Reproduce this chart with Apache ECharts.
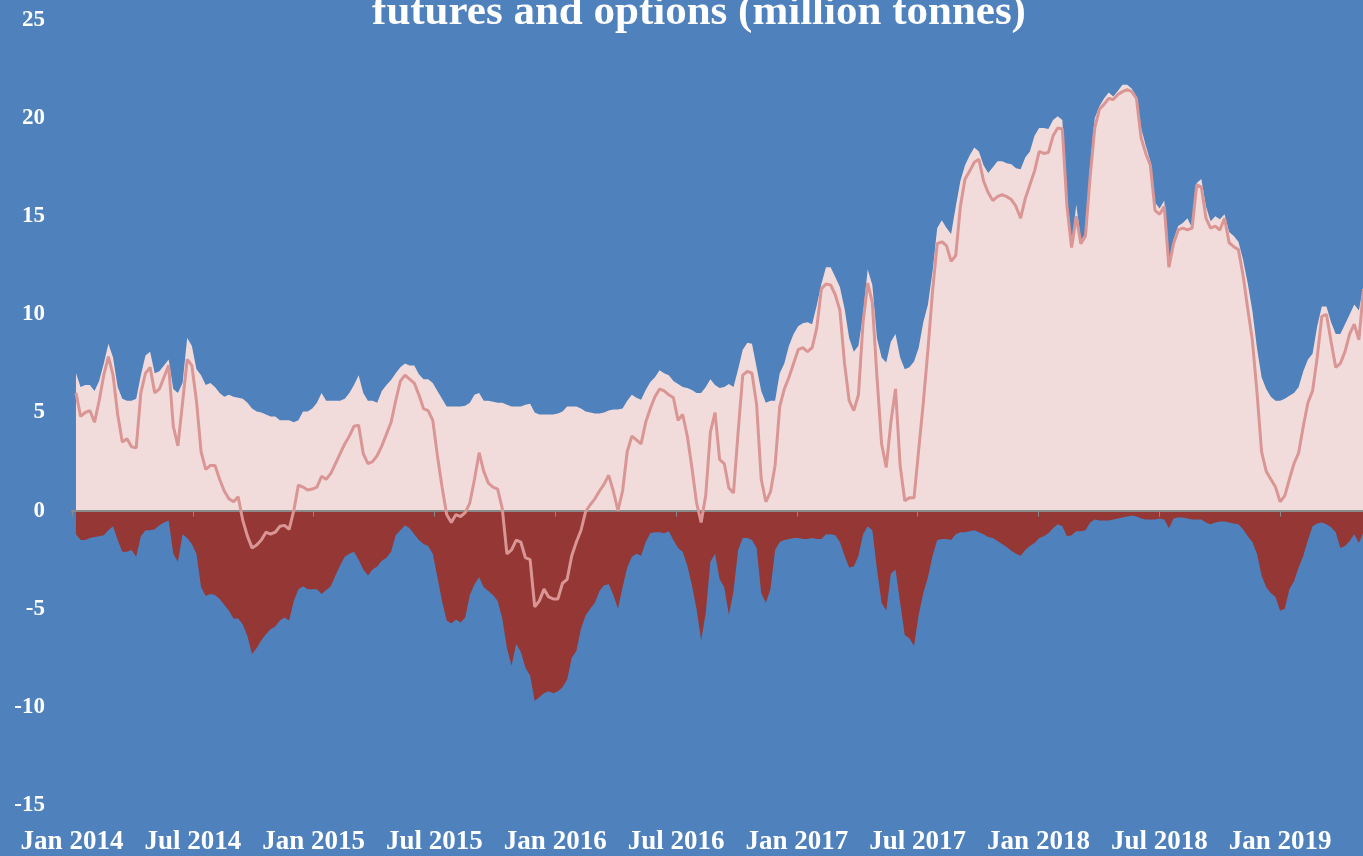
<!DOCTYPE html>
<html>
<head>
<meta charset="utf-8">
<title>futures and options (million tonnes)</title>
<script src="https://cdn.jsdelivr.net/npm/echarts@6/dist/echarts.min.js"></script>
<style>
  html, body { margin: 0; padding: 0; background: #4f81bd; }
  #chart { width: 1363px; height: 856px; }
</style>
</head>
<body>
<div id="chart"></div>
<script>
// weekly positions, million tonnes, first report 7 Jan 2014
var firstWeek = '2014-01-07';

var longPos = [
  7.0, 6.3, 6.4, 6.4, 6.1, 6.6, 7.5, 8.5, 7.8, 6.3,
  5.7, 5.6, 5.6, 5.7, 6.9, 7.9, 8.1, 7.0, 7.1, 7.4,
  7.7, 6.2, 6.0, 6.5, 8.8, 8.4, 7.2, 6.9, 6.4, 6.5,
  6.3, 6.0, 5.8, 5.9, 5.8, 5.75, 5.7, 5.5, 5.2, 5.05,
  5.0, 4.9, 4.8, 4.8, 4.6, 4.6, 4.6, 4.5, 4.6, 5.05,
  5.05, 5.2, 5.5, 6.0, 5.6, 5.6, 5.6, 5.6, 5.7, 6.0,
  6.4, 6.9, 6.0, 5.6, 5.6, 5.5, 6.1, 6.4, 6.65, 7.0,
  7.3, 7.5, 7.4, 7.4, 6.95, 6.7, 6.7, 6.5, 6.1, 5.7,
  5.3, 5.3, 5.3, 5.3, 5.35, 5.5, 5.9, 6.0, 5.6, 5.6,
  5.55, 5.5, 5.5, 5.4, 5.3, 5.3, 5.3, 5.4, 5.45, 5.0,
  4.9, 4.9, 4.9, 4.9, 4.95, 5.05, 5.3, 5.3, 5.3, 5.2,
  5.05, 5.0, 4.95, 4.95, 5.0, 5.1, 5.15, 5.15, 5.2, 5.6,
  5.9, 5.75, 5.65, 6.15, 6.55, 6.8, 7.15, 7.0, 6.9, 6.6,
  6.45, 6.3, 6.25, 6.15, 6.0, 6.0, 6.3, 6.7, 6.4, 6.25,
  6.3, 6.45, 6.3, 7.2, 8.2, 8.55, 8.5, 7.3, 6.1, 5.5,
  5.6, 5.6, 7.0, 7.5, 8.4, 9.0, 9.4, 9.55, 9.6, 9.5,
  10.45, 11.55, 12.4, 12.4, 11.9, 11.4, 10.3, 8.8, 8.1, 8.4,
  10.0, 12.3, 11.5, 8.8, 7.8, 7.55, 8.6, 9.0, 7.8, 7.2,
  7.3, 7.6, 8.3, 9.6, 10.5, 12.2, 14.4, 14.8, 14.4, 14.1,
  15.5, 16.8, 17.6, 18.1, 18.5, 18.3, 17.6, 17.2, 17.5, 17.8,
  17.8, 17.7, 17.65, 17.45, 17.4, 18.0, 18.3, 19.1, 19.5, 19.5,
  19.45, 19.9, 20.1, 19.9, 16.0, 13.4, 15.6, 13.8, 14.1, 17.6,
  20.0, 20.6, 21.0, 21.3, 21.1, 21.4, 21.7, 21.7, 21.5, 21.1,
  19.5, 18.6, 17.8, 15.7, 15.4, 15.8, 12.75, 13.8, 14.5, 14.65,
  14.9, 14.4, 16.7, 16.9, 15.5, 14.75, 15.0, 14.85, 15.1, 14.2,
  14.0, 13.7, 12.8, 11.6, 10.2, 8.3, 6.8, 6.2, 5.8, 5.6,
  5.6, 5.7, 5.85, 6.0, 6.3, 7.1, 7.7, 8.0, 9.4, 10.4,
  10.4, 9.6, 9.0, 9.0, 9.5, 10.0, 10.5, 10.2, 11.5
];

var shortPos = [
  -1.2, -1.5, -1.5, -1.4, -1.35, -1.3, -1.25, -1.0, -0.8, -1.5,
  -2.1, -2.1, -2.0, -2.35, -1.3, -1.0, -1.0, -0.95, -0.75, -0.6,
  -0.5, -2.2, -2.6, -1.2, -1.4, -1.7, -2.2, -3.9, -4.35, -4.25,
  -4.3, -4.5, -4.8, -5.1, -5.5, -5.5, -5.8, -6.4, -7.3, -7.0,
  -6.6, -6.3, -6.05, -5.9, -5.6, -5.45, -5.6, -4.6, -4.0, -3.85,
  -4.0, -4.0, -4.0, -4.25, -4.05, -3.85, -3.3, -2.8, -2.35, -2.2,
  -2.1, -2.5, -3.0, -3.3, -3.0, -2.85, -2.55, -2.4, -2.1, -1.25,
  -1.0, -0.75, -0.9, -1.2, -1.5, -1.7, -1.8, -2.2, -3.4, -4.6,
  -5.6, -5.75, -5.55, -5.7, -5.45, -4.3, -3.75, -3.4, -3.9, -4.1,
  -4.3, -4.6, -5.5, -7.0, -7.9, -6.8, -7.2, -8.0, -8.4, -9.7,
  -9.5, -9.3, -9.2, -9.3, -9.2, -9.0, -8.6, -7.5, -7.15, -6.0,
  -5.35, -5.0, -4.7, -4.1, -3.8, -3.75, -4.3, -5.0, -3.9, -2.9,
  -2.35, -2.2, -2.3, -1.6, -1.15, -1.1, -1.1, -1.15, -1.05, -1.5,
  -1.9, -2.1, -2.8, -3.8, -5.0, -6.6, -5.2, -2.6, -2.2, -3.5,
  -3.9, -5.3, -4.1, -2.0, -1.4, -1.4, -1.5, -1.9, -4.2, -4.7,
  -4.0, -2.0, -1.6, -1.5, -1.45, -1.4, -1.4, -1.45, -1.45, -1.4,
  -1.45, -1.45, -1.2, -1.2, -1.25, -1.6, -2.3, -2.9, -2.85, -2.3,
  -1.2, -0.8, -1.0, -3.0, -4.7, -5.1, -3.2, -3.0, -4.7, -6.35,
  -6.5, -6.9, -5.3, -4.2, -3.4, -2.3, -1.5, -1.45, -1.45, -1.5,
  -1.2, -1.1, -1.1, -1.05, -1.0, -1.1, -1.2, -1.35, -1.4, -1.55,
  -1.7, -1.85, -2.05, -2.2, -2.3, -2.0, -1.8, -1.65, -1.4, -1.3,
  -1.15, -0.9, -0.7, -0.8, -1.3, -1.25, -1.05, -1.05, -1.0, -0.6,
  -0.45, -0.5, -0.5, -0.5, -0.45, -0.4, -0.35, -0.3, -0.25, -0.3,
  -0.4, -0.45, -0.45, -0.45, -0.4, -0.45, -0.9, -0.4, -0.35, -0.35,
  -0.4, -0.45, -0.45, -0.45, -0.6, -0.7, -0.6, -0.55, -0.55, -0.6,
  -0.65, -0.7, -0.95, -1.3, -1.6, -2.2, -3.3, -3.9, -4.2, -4.4,
  -5.1, -5.0, -4.0, -3.6, -2.9, -2.3, -1.5, -0.8, -0.65, -0.6,
  -0.7, -0.85, -1.1, -1.9, -1.8, -1.55, -1.2, -1.65, -1.1
];

var netPos = [
  6.0, 4.8, 5.0, 5.1, 4.5, 5.6, 6.9, 7.85, 6.9, 4.9,
  3.5, 3.66, 3.25, 3.2, 6.0, 7.0, 7.3, 6.0, 6.2, 6.8,
  7.4, 4.3, 3.3, 5.5, 7.7, 7.4, 5.6, 3.0, 2.1, 2.3,
  2.3, 1.6, 1.0, 0.6, 0.45, 0.7, -0.5, -1.3, -1.9, -1.75,
  -1.5, -1.1, -1.2, -1.1, -0.8, -0.75, -0.95, 0.0, 1.3, 1.2,
  1.05, 1.1, 1.2, 1.75, 1.6, 1.9, 2.4, 2.9, 3.4, 3.8,
  4.3, 4.35, 2.9, 2.4, 2.5, 2.8, 3.3, 3.9, 4.5, 5.6,
  6.6, 6.9, 6.7, 6.5, 5.9, 5.2, 5.1, 4.6, 2.8, 1.2,
  -0.2, -0.6, -0.2, -0.3, -0.1, 0.4, 1.6, 2.95, 2.0, 1.4,
  1.2, 1.1, 0.1, -2.2, -2.0, -1.5, -1.6, -2.4, -2.5, -4.9,
  -4.6, -4.0, -4.4, -4.5, -4.5, -3.7, -3.5, -2.3, -1.6, -1.0,
  -0.05, 0.3, 0.6, 1.0, 1.35, 1.8, 1.0, 0.0, 1.0, 3.0,
  3.8, 3.6, 3.4, 4.5, 5.2, 5.8, 6.2, 6.1, 5.9, 5.75,
  4.6, 4.9, 3.8, 2.2, 0.4, -0.6, 0.8, 4.0, 5.0, 2.6,
  2.4, 1.15, 0.9, 4.0, 6.9, 7.1, 7.0, 5.4, 1.6, 0.45,
  0.95, 2.3, 5.3, 6.2, 6.8, 7.5, 8.2, 8.3, 8.1, 8.3,
  9.3, 11.3, 11.55, 11.5, 11.0, 10.2, 7.5, 5.6, 5.1, 5.9,
  9.6, 11.6, 10.6, 6.8, 3.4, 2.2, 4.5, 6.2, 2.3, 0.5,
  0.65, 0.65, 3.1, 5.5, 8.2, 11.2, 13.6, 13.7, 13.5, 12.7,
  13.0, 15.5, 16.9, 17.3, 17.75, 17.9, 16.8, 16.2, 15.8, 16.0,
  16.1, 16.0, 15.85, 15.5, 14.9, 15.9, 16.6, 17.3, 18.3, 18.2,
  18.25, 19.1, 19.5, 19.45, 15.5, 13.4, 15.0, 13.6, 14.0, 17.0,
  19.5, 20.45, 20.7, 21.0, 20.95, 21.2, 21.35, 21.45, 21.35, 21.0,
  19.0, 18.2, 17.6, 15.3, 15.1, 15.5, 12.4, 13.6, 14.3, 14.4,
  14.3, 14.4, 16.6, 16.5, 14.9, 14.4, 14.5, 14.3, 14.9, 13.65,
  13.45, 13.3, 12.0, 10.3, 8.7, 6.05, 3.0, 2.0, 1.6, 1.2,
  0.45, 0.75, 1.6, 2.4, 2.95, 4.3, 5.5, 6.1, 7.8, 9.9,
  10.0, 8.6, 7.3, 7.5, 8.1, 9.0, 9.5, 8.7, 11.3
];

var xTickLabels = ['Jan 2014', 'Jul 2014', 'Jan 2015', 'Jul 2015', 'Jan 2016', 'Jul 2016',
                   'Jan 2017', 'Jul 2017', 'Jan 2018', 'Jul 2018', 'Jan 2019'];

var titleText = 'futures and options (million tonnes)';

// report dates, one per week
var weeks = [];
var t0 = Date.parse(firstWeek + 'T00:00:00Z');
for (var i = 0; i < longPos.length; i++) {
  weeks.push(new Date(t0 + i * 7 * 86400000).toISOString().slice(0, 10));
}

// date -> fractional year, so the x axis can tick every half year
function toYear(s) {
  var d = Date.parse(s + 'T00:00:00Z');
  var y = new Date(d).getUTCFullYear();
  var a = Date.UTC(y, 0, 1), b = Date.UTC(y + 1, 0, 1);
  return y + (d - a) / (b - a);
}
function pairs(vals) {
  return vals.map(function (v, i) { return [toYear(weeks[i]), v]; });
}

var chart = echarts.init(document.getElementById('chart'), null, { renderer: 'canvas' });
var serif = '"Liberation Serif", "DejaVu Serif", serif';

var option = {
  animation: false,
  backgroundColor: '#4f81bd',
  grid: { left: 72, right: 0, top: 20, bottom: 51, outerBoundsMode: 'none' },
  graphic: [{
    type: 'text',
    x: 699,
    y: 13,
    style: {
      text: titleText,
      fill: '#ffffff',
      font: 'bold 43px ' + serif,
      align: 'center',
      verticalAlign: 'middle'
    }
  }],
  xAxis: [{
    type: 'value',
    position: 'bottom',
    min: 2014,
    max: 2019.343,
    interval: 0.5,
    axisLine: { show: false, onZero: false },
    axisTick: { show: false },
    splitLine: { show: false },
    axisLabel: {
      color: '#ffffff',
      fontFamily: serif,
      fontWeight: 'bold',
      fontSize: 27,
      margin: 24,
      formatter: function (v) {
        var k = (v - 2014) * 2;
        if (Math.abs(k - Math.round(k)) > 1e-6) return '';
        return xTickLabels[Math.round(k)] || '';
      }
    }
  }, {
    // zero line with its half-year ticks
    type: 'value',
    position: 'top',
    z: 3,
    min: 2014,
    max: 2019.343,
    interval: 0.5,
    axisLine: { show: true, onZero: true, lineStyle: { color: '#8a8a8a', width: 2 } },
    axisTick: { show: true, inside: true, length: 6, lineStyle: { color: '#8a8a8a', width: 1 } },
    axisLabel: { show: false },
    splitLine: { show: false }
  }],
  yAxis: {
    type: 'value',
    min: -15,
    max: 25,
    interval: 5,
    axisLine: { show: false },
    axisTick: { show: false },
    splitLine: { show: false },
    axisLabel: {
      color: '#ffffff',
      fontFamily: serif,
      fontWeight: 'bold',
      fontSize: 23,
      margin: 27
    }
  },
  series: [{
    name: 'Long',
    type: 'line',
    data: pairs(longPos),
    showSymbol: false,
    z: 2,
    lineStyle: { width: 0 },
    areaStyle: { color: '#f2dcdb', opacity: 1 }
  }, {
    name: 'Short',
    type: 'line',
    data: pairs(shortPos),
    showSymbol: false,
    z: 2,
    lineStyle: { width: 0 },
    areaStyle: { color: '#953735', opacity: 1 }
  }, {
    name: 'Net',
    type: 'line',
    data: pairs(netPos),
    showSymbol: false,
    z: 4,
    lineStyle: { color: '#d99694', width: 3 }
  }]
};

chart.setOption(option);
</script>
</body>
</html>
